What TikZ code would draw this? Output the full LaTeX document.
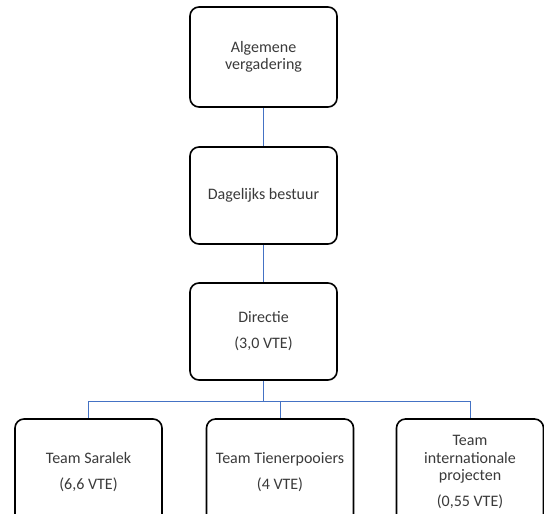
\documentclass[tikz,border=0pt]{standalone}
\usepackage{fontspec}
\setmainfont{Carlito}
\definecolor{txtgrey}{HTML}{3A3A3A}
\definecolor{linkblue}{HTML}{4472C4}
\begin{document}
\begin{tikzpicture}[x=1pt,y=-1pt,
  orgbox/.style={draw=black, line width=1.6pt, rounded corners=9pt, fill=white,
    minimum width=147pt, minimum height=97pt, align=center, text=txtgrey,
    font=\fontsize{16}{17.5}\selectfont, inner sep=2pt},
  link/.style={draw=linkblue, line width=1pt}]
\path[use as bounding box] (0,0) rectangle (544,514);
\clip (0,0) rectangle (544,514);
\fill[white] (0,0) rectangle (544,514);
\node[orgbox, minimum height=100pt] (av) at (263.5,57) {Algemene\\vergadering};
\node[orgbox] (db) at (263.5,195.5) {Dagelijks bestuur};
\node[orgbox] (dir) at (263.5,331.5) {Directie\\[8.5pt](3,0 VTE)};
\node[orgbox, minimum height=106pt] (ts) at (88.5,472) {Team Saralek\\[8.5pt](6,6 VTE)};
\node[orgbox, minimum height=106pt] (tt) at (280,472) {Team Tienerpooiers\\[8.5pt](4 VTE)};
\node[orgbox, minimum height=106pt] (ti) at (470,472) {Team\\internationale\\projecten\\[8.5pt](0,55 VTE)};
\path[link] (av.south) -- (db.north);
\path[link] (db.south) -- (dir.north);
\path[link] (dir.south) -- ++(0,21) coordinate (bus);
\path[link] (bus) -| (ts.north);
\path[link] (bus) -| (tt.north);
\path[link] (bus) -| (ti.north);
\end{tikzpicture}
\end{document}
